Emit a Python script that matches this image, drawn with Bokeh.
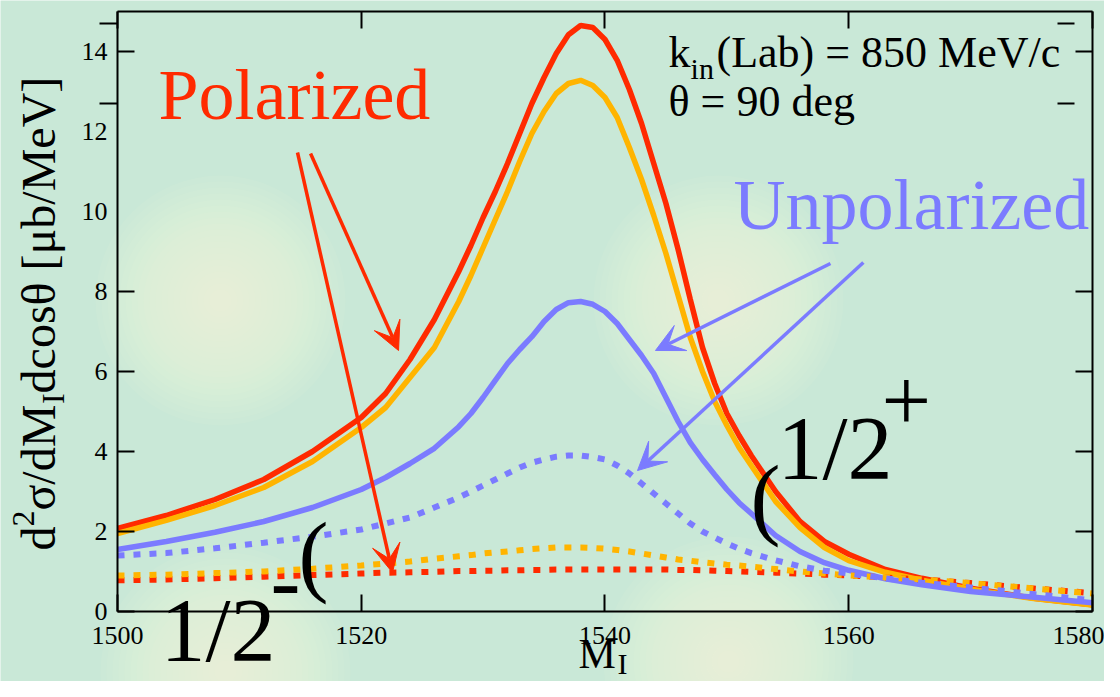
from bokeh.plotting import figure
from bokeh.models import Range1d, LinearAxis, FixedTicker, Label, Arrow, VeeHead
from bokeh.embed import file_html
from bokeh.resources import INLINE

# ---------------- data ----------------
mass = [1500, 1504, 1508, 1512, 1516, 1520, 1522, 1524, 1526, 1528,
        1529, 1530, 1531, 1532, 1533, 1534, 1535, 1536, 1537, 1538, 1539, 1540,
        1541, 1542, 1543, 1544, 1545, 1546, 1547, 1548, 1549, 1550, 1551, 1552,
        1554, 1556, 1558, 1560, 1563, 1566, 1570, 1575, 1580]

pol_red = [2.08, 2.4, 2.8, 3.3, 4.0, 4.85, 5.45, 6.3, 7.3, 8.5,
           9.15, 9.85, 10.5, 11.2, 11.95, 12.7, 13.35, 13.95, 14.42, 14.65, 14.6, 14.3,
           13.78, 13.05, 12.2, 11.2, 10.2, 9.05, 7.8, 6.6, 5.7, 4.95, 4.4, 3.9,
           3.0, 2.25, 1.75, 1.43, 1.05, 0.83, 0.58, 0.34, 0.17]
pol_orange = [1.95, 2.28, 2.65, 3.1, 3.75, 4.6, 5.1, 5.85, 6.6, 7.75,
              8.4, 9.1, 9.8, 10.5, 11.25, 11.95, 12.5, 12.95, 13.2, 13.28, 13.15, 12.85,
              12.35, 11.6, 10.8, 9.9, 8.95, 7.9, 6.85, 6.0, 5.25, 4.65, 4.1, 3.65,
              2.75, 2.1, 1.6, 1.27, 0.98, 0.78, 0.56, 0.33, 0.16]
unpol_blue = [1.55, 1.75, 1.98, 2.25, 2.6, 3.05, 3.35, 3.7, 4.08, 4.62,
              4.95, 5.35, 5.78, 6.2, 6.55, 6.87, 7.25, 7.55, 7.72, 7.75, 7.68, 7.5,
              7.2, 6.8, 6.4, 5.95, 5.35, 4.75, 4.22, 3.8, 3.42, 3.05, 2.72, 2.45,
              1.9, 1.5, 1.22, 1.03, 0.82, 0.67, 0.5, 0.36, 0.22]
unpol_blue_dot = [1.4, 1.46, 1.58, 1.72, 1.87, 2.05, 2.2, 2.35, 2.6, 2.85,
                  3.0, 3.15, 3.3, 3.45, 3.6, 3.72, 3.8, 3.87, 3.9, 3.9, 3.86, 3.8,
                  3.65, 3.45, 3.2, 2.95, 2.7, 2.45, 2.2, 2.0, 1.85, 1.7, 1.57, 1.46,
                  1.28, 1.13, 1.02, 0.95, 0.83, 0.72, 0.6, 0.44, 0.28]
pol_orange_dot = [0.9, 0.92, 0.96, 1.0, 1.07, 1.15, 1.2, 1.25, 1.32, 1.38,
                  1.41, 1.45, 1.48, 1.5, 1.53, 1.56, 1.58, 1.6, 1.6, 1.6, 1.59, 1.57,
                  1.54, 1.5, 1.45, 1.4, 1.35, 1.3, 1.27, 1.23, 1.2, 1.17, 1.15, 1.12,
                  1.06, 1.0, 0.95, 0.9, 0.85, 0.8, 0.71, 0.58, 0.45]
pol_red_dot = [0.78, 0.8, 0.83, 0.87, 0.91, 0.95, 0.97, 0.98, 0.99, 1.01,
               1.01, 1.02, 1.02, 1.03, 1.03, 1.04, 1.04, 1.05, 1.05, 1.05, 1.05, 1.05,
               1.05, 1.05, 1.05, 1.05, 1.05, 1.04, 1.04, 1.03, 1.02, 1.01, 1.0, 0.99,
               0.97, 0.95, 0.92, 0.9, 0.85, 0.8, 0.71, 0.58, 0.46]

x_ticks = [1500, 1520, 1540, 1560, 1580]
y_tick_labels = [0, 2, 4, 6, 8, 10, 12, 14]
y_tick_marks = [0, 2, 4, 6, 8, 14]
y_stray_marks = [12.7, 14.7]

RED = "#ff2a00"
ORANGE = "#ffb400"
BLUE = "#7b7bff"
BG = "#c9e8d7"
FONT = "Liberation Serif"

# whole canvas is the frame; axes are pinned at the data box edges
p = figure(width=1104, height=681,
           x_range=Range1d(1490.4, 1580.985), y_range=Range1d(-1.75, 15.275),
           output_backend="svg", toolbar_location=None,
           x_axis_location=None, y_axis_location=None,
           min_border_left=0, min_border_right=0, min_border_top=0, min_border_bottom=0)
p.background_fill_color = BG
p.border_fill_color = BG
p.outline_line_color = None
p.grid.visible = False

# soft background glows
glow_x = [1508.45, 1549.31, 1508.86, 1550.13]
glow_y = [7.775, 7.775, -1.5, -1.25]
for s in range(250, 10, -12):
    p.scatter(glow_x, glow_y, size=s, fill_color="#f6f9d6", fill_alpha=0.055, line_color=None)


def make_axis(ticks, bounds, loc, labels=True, marks=True, line=True, t_in=17, t_out=0):
    ax = LinearAxis(ticker=FixedTicker(ticks=ticks), bounds=bounds, fixed_location=loc)
    ax.axis_line_color = "black" if line else None
    ax.axis_line_width = 2
    ax.major_tick_line_color = "black" if marks else None
    ax.major_tick_line_width = 2
    ax.major_tick_in = t_in
    ax.major_tick_out = t_out
    ax.minor_tick_line_color = None
    ax.major_label_text_font = FONT
    ax.major_label_text_font_size = "26px"
    ax.major_label_text_color = "black"
    if not labels:
        ax.major_label_overrides = {t: "" for t in ticks}
    return ax


xb = make_axis(x_ticks, (1500, 1580), 0)
xb.major_label_standoff = 15
yl = make_axis(y_tick_labels, (0, 15), 1500, marks=False)
yl.major_label_standoff = 10
yl_marks = make_axis(y_tick_marks, (0, 15), 1500, labels=False, line=False)
yl_stray = make_axis(y_stray_marks, (0, 15), 1500, labels=False, line=False, t_in=0, t_out=18)
xt = make_axis(x_ticks, (1500, 1580), 15, labels=False)
yr = make_axis(y_tick_marks, (0, 15), 1580, labels=False)
yr_stray = make_axis(y_stray_marks, (0, 15), 1578.52, labels=False, line=False)
p.add_layout(xb, "below")
p.add_layout(yl, "left")
p.add_layout(yl_marks, "left")
p.add_layout(yl_stray, "left")
p.add_layout(xt, "above")
p.add_layout(yr, "right")
p.add_layout(yr_stray, "right")

# curves
p.line(mass, pol_red, line_color=RED, line_width=5.5)
p.line(mass, pol_orange, line_color=ORANGE, line_width=5.5)
p.line(mass, unpol_blue, line_color=BLUE, line_width=5.5)
p.line(mass, pol_red_dot, line_color=RED, line_width=6, line_dash="7 9")
p.line(mass, pol_orange_dot, line_color=ORANGE, line_width=6, line_dash="7 9")
p.line(mass, unpol_blue_dot, line_color=BLUE, line_width=6, line_dash="7 9")

# arrows
arrows = [
    (1514.77, 11.475, 1522.56, 0.975, RED),
    (1515.84, 11.45, 1523.06, 6.525, RED),
    (1558.5, 8.7, 1544.14, 6.525, BLUE),
    (1561.2, 8.725, 1542.67, 3.525, BLUE),
]
for xs, ys, xe, ye, c in arrows:
    p.add_layout(Arrow(x_start=xs, y_start=ys, x_end=xe, y_end=ye, line_color=c, line_width=3.5,
                       end=VeeHead(size=28, fill_color=c, line_color=c)))


def lab(x, y, text, size, color="black", rotated=False):
    fs = float(size.replace("px", ""))
    shift = round(0.36 * fs)
    if rotated:
        kw = dict(angle=1.5707963, x_offset=-shift, y_offset=0)
    else:
        kw = dict(angle=0.0, x_offset=0, y_offset=shift)
    p.add_layout(Label(x=x, y=y, text=text, text_font=FONT, text_font_size=size,
                       text_color=color, text_align="left", text_baseline="alphabetic", **kw))


lab(1503.36, 12.275, "Polarized", "72px", RED)
lab(1550.54, 9.525, "Unpolarized", "72px", BLUE)

lab(1545.21, 13.575, "k", "44px")
lab(1547.02, 13.3, "in", "30px")
lab(1549.15, 13.575, "(Lab) = 850 MeV/c", "44px")
lab(1545.21, 12.35, "\u03b8 = 90 deg", "44px")

# 1/2- ( on the left
lab(1503.53, -1.275, "1/2", "90px")
lab(1512.55, -0.025, "-", "90px")
lab(1514.85, 0.625, "(", "90px")
# ( 1/2+ on the right
lab(1551.94, 2.05, "(", "90px")
lab(1554.15, 3.275, "1/2", "90px")
lab(1562.69, 4.475, "+", "88px")

# x axis label M_I
lab(1537.83, -1.425, "M", "42px")
lab(1541.03, -1.575, "I", "30px")

# y axis label d^2 sigma / dM_I dcos theta [mub/MeV]
lab(1494.91, 1.525, "d", "48px", rotated=True)
lab(1493.27, 2.125, "2", "32px", rotated=True)
lab(1494.91, 2.525, "\u03c3/dM", "48px", rotated=True)
lab(1495.73, 5.185, "I", "32px", rotated=True)
lab(1494.91, 5.453, "dcos\u03b8 [\u03bcb/MeV]", "48px", rotated=True)

open("out.html", "w").write(file_html(p, INLINE))
